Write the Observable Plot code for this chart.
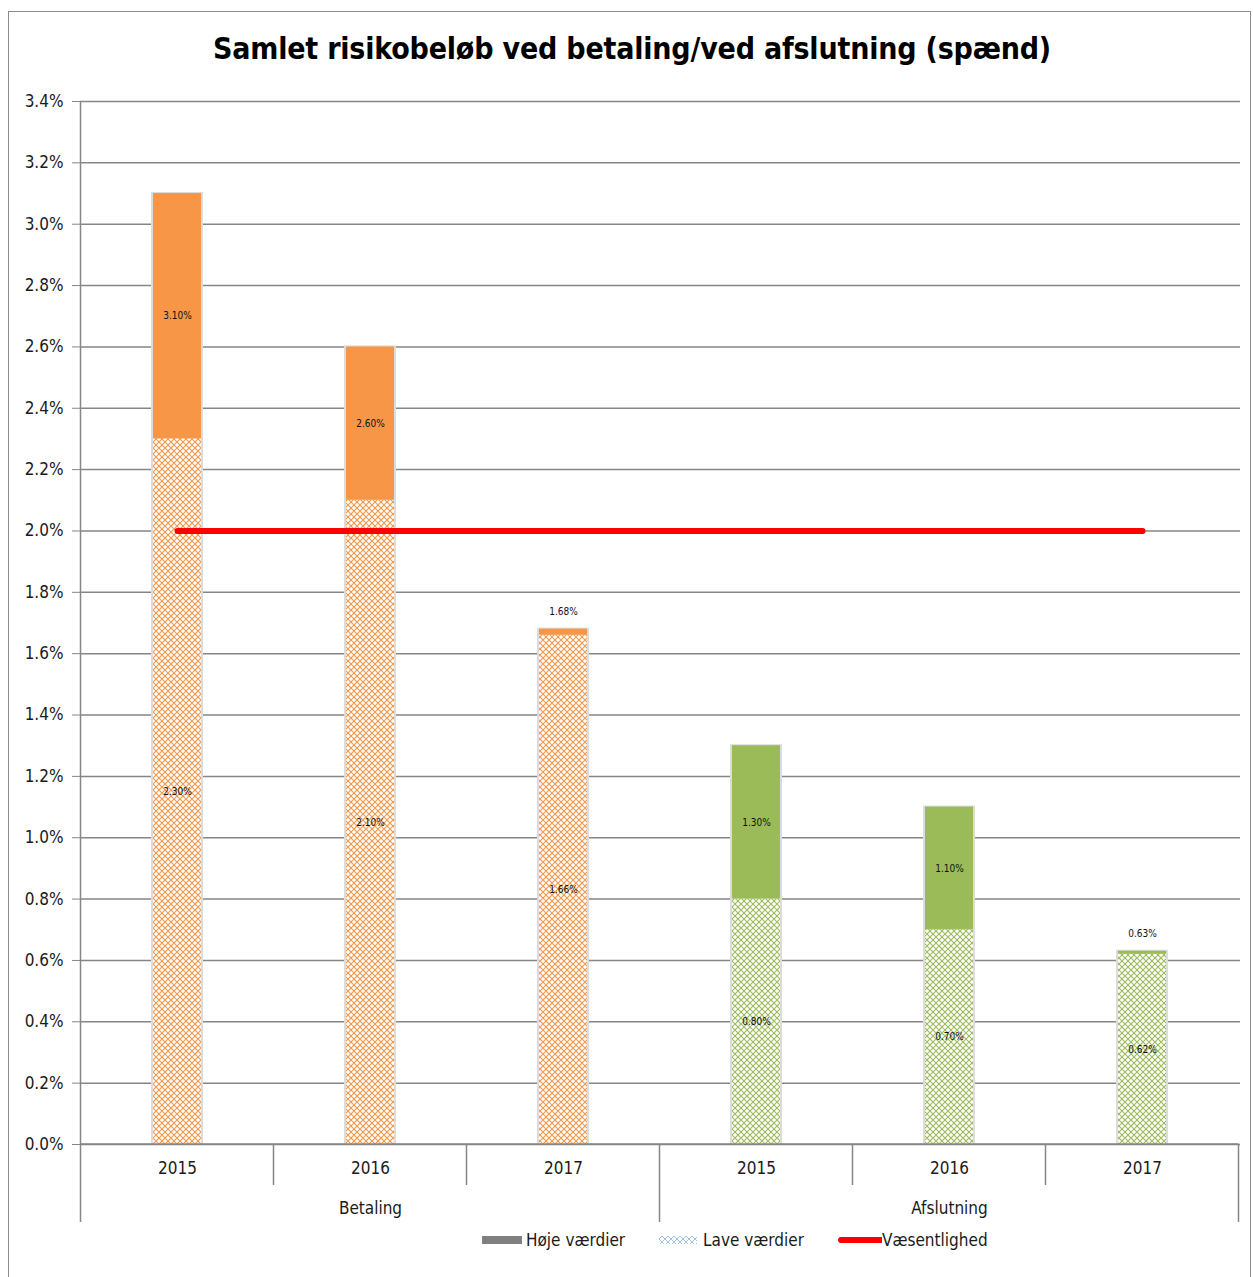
<!DOCTYPE html>
<html>
<head>
<meta charset="utf-8">
<script src="https://cdn.jsdelivr.net/npm/d3@7"></script>
<script src="https://cdn.jsdelivr.net/npm/@observablehq/plot@0.6"></script>
<style>
  body { margin: 0; background: #fff; font-family: "DejaVu Sans", sans-serif; font-stretch: condensed; color: #1a1a1a; }
  #frame { position: absolute; left: 8px; top: 11px; width: 1243px; height: 1280px; border: 1.5px solid #8c8c8c; box-sizing: border-box; }
  #title { position: absolute; left: 0; top: 31px; width: 1264px; text-align: center; font-weight: bold; font-size: 30px; line-height: 36px; color: #000; letter-spacing: -0.2px; }
  #chart { position: absolute; left: 0; top: 85px; }
  #legend { position: absolute; left: 482px; top: 1229px; display: flex; align-items: center; font-size: 17px; line-height: 22px; }
  #legend .item { display: flex; align-items: center; }
  #legend svg { display: block; }
</style>
</head>
<body>
<div id="frame"></div>
<div id="title">Samlet risikobeløb ved betaling/ved afslutning (spænd)</div>
<div id="chart"></div>
<div id="legend"></div>
<script>
// Categories
const groups = ["Betaling", "Afslutning"];
const years = ["2015", "2016", "2017"];

// Low and high estimates (percent)
const lowBetaling = [2.30, 2.10, 1.66];
const highBetaling = [3.10, 2.60, 1.68];
const lowAfslutning = [0.80, 0.70, 0.62];
const highAfslutning = [1.30, 1.10, 0.63];

// Materiality threshold (percent)
const threshold = 2.0;

// Y axis ticks
const yTicks = d3.range(0, 3.41, 0.2).map(v => +v.toFixed(1));

const groupColors = { Betaling: "#F79646", Afslutning: "#9BBB59" };
const hatchIds = { Betaling: "url(#hatchOrange)", Afslutning: "url(#hatchGreen)" };

const lows = { Betaling: lowBetaling, Afslutning: lowAfslutning };
const highs = { Betaling: highBetaling, Afslutning: highAfslutning };

const rows = [];
for (const g of groups) {
  years.forEach((yr, i) => {
    rows.push({ key: `${g}|${yr}`, group: g, year: yr, low: lows[g][i], high: highs[g][i] });
  });
}
const keys = rows.map(d => d.key);
const pct = v => v.toFixed(2) + "%";
const wide = rows.filter(d => d.high - d.low >= 0.1);
const thin = rows.filter(d => d.high - d.low < 0.1);
const groupCenters = groups.map(g => ({ group: g, key: `${g}|${years[1]}` }));

const plot = Plot.plot({
  width: 1253,
  height: 1140,
  marginTop: 16,
  marginBottom: 81,
  marginLeft: 80,
  marginRight: 13,
  style: { fontFamily: "DejaVu Sans, sans-serif", fontStretch: "condensed", color: "#1a1a1a", background: "transparent" },
  x: { type: "band", domain: keys, paddingInner: 0.75, paddingOuter: 0.375, label: null },
  y: { domain: [0, 3.4], label: null },
  color: { type: "identity" },
  marks: [
    Plot.gridY(yTicks, { stroke: "#868686", strokeOpacity: 1, strokeWidth: 1.5 }),
    Plot.axisY(yTicks, { tickSize: 8, tickPadding: 9, stroke: "#868686", fontSize: 17, tickFormat: d => d.toFixed(1) + "%" }),
    Plot.axisX({ tickSize: 0, tickPadding: 17, fontSize: 17, tickFormat: d => d.split("|")[1] }),
    // soft outline behind each bar
    Plot.rectY(rows, { x: "key", y1: 0, y2: "high", fill: "#dcdcdc", insetLeft: -2, insetRight: -2, insetTop: -1 }),
    // low values (hatched)
    Plot.rectY(rows, { x: "key", y1: 0, y2: "low", fill: d => hatchIds[d.group] }),
    // high values (solid, stacked from low to high)
    Plot.rectY(rows, { x: "key", y1: "low", y2: "high", fill: d => groupColors[d.group] }),
    // materiality line
    Plot.lineY(rows, { x: "key", y: () => threshold, stroke: "#FF0000", strokeWidth: 6, strokeLinecap: "round" }),
    // value labels
    Plot.text(rows, { x: "key", y: d => d.low / 2, text: d => pct(d.low), fontSize: 10, fill: "#111" }),
    Plot.text(wide, { x: "key", y: d => (d.low + d.high) / 2, text: d => pct(d.high), fontSize: 10, fill: "#111" }),
    Plot.text(thin, { x: "key", y: "high", dy: -17, text: d => pct(d.high), fontSize: 10, fill: "#111" }),
    // group labels under the year ticks
    Plot.text(groupCenters, { x: "key", y: () => 0, dy: 64, text: "group", fontSize: 17, fill: "#1a1a1a" })
  ]
});

// Hatch patterns for the low-value bars
const svg = d3.select(plot);
const defs = svg.insert("defs", ":first-child");
function hatch(id, color) {
  const p = defs.append("pattern").attr("id", id).attr("patternUnits", "userSpaceOnUse")
    .attr("width", 6).attr("height", 6);
  p.append("rect").attr("width", 6).attr("height", 6).attr("fill", "#fff");
  p.append("path").attr("d", "M0,0L6,6M6,0L0,6").attr("stroke", color).attr("stroke-width", 1.1).attr("fill", "none");
}
hatch("hatchOrange", "#F79646");
hatch("hatchGreen", "#9BBB59");

// Category separators (two tiers) and the left axis line
const xs = plot.scale("x");
const ys = plot.scale("y");
const gap = (xs.step - xs.bandwidth) / 2;
const bounds = keys.map(k => xs.apply(k) - gap);
bounds.push(xs.apply(keys[keys.length - 1]) + xs.bandwidth + gap);
const yBase = ys.apply(0);
const yTop = ys.apply(3.4);
const sep = svg.append("g").attr("stroke", "#868686").attr("stroke-width", 1.5);
bounds.forEach((bx, i) => {
  const major = i % years.length === 0;
  sep.append("line").attr("x1", bx).attr("x2", bx)
    .attr("y1", i === 0 ? yTop : yBase)
    .attr("y2", yBase + (major ? 78 : 41));
});
sep.append("line").attr("x1", bounds[0]).attr("x2", bounds[bounds.length - 1]).attr("y1", yBase).attr("y2", yBase);

document.getElementById("chart").append(plot);

// Legend
const legendItems = [
  { label: "Høje værdier", kind: "solid" },
  { label: "Lave værdier", kind: "hatch" },
  { label: "Væsentlighed", kind: "line" }
];
const legend = d3.select("#legend");
legendItems.forEach((it, i) => {
  const item = legend.append("div").attr("class", "item").style("margin-right", i < 2 ? "34px" : "0");
  const s = item.append("svg").attr("width", 44).attr("height", 14);
  if (it.kind === "solid") {
    s.append("rect").attr("x", 0).attr("y", 3).attr("width", 40).attr("height", 8).attr("fill", "#808080");
  } else if (it.kind === "hatch") {
    const d = s.append("defs").append("pattern").attr("id", "hatchBlue").attr("patternUnits", "userSpaceOnUse")
      .attr("width", 6).attr("height", 6);
    d.append("path").attr("d", "M0,0L6,6M6,0L0,6").attr("stroke", "#9DC3E6").attr("stroke-width", 1);
    s.append("rect").attr("x", 0).attr("y", 3).attr("width", 38).attr("height", 8).attr("fill", "url(#hatchBlue)");
  } else {
    s.append("line").attr("x1", 3).attr("x2", 43).attr("y1", 7).attr("y2", 7)
      .attr("stroke", "#FF0000").attr("stroke-width", 6).attr("stroke-linecap", "round");
  }
  item.append("span").text(it.label);
});
</script>
</body>
</html>
